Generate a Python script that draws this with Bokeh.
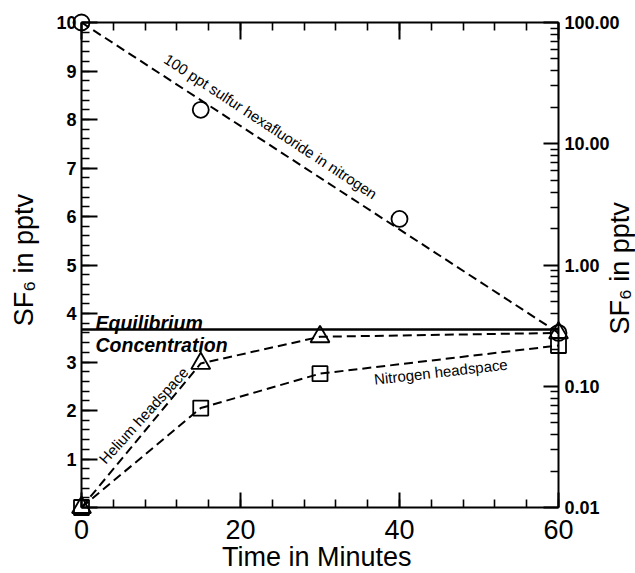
from bokeh.plotting import figure
from bokeh.models import (LinearAxis, LogAxis, Range1d, FixedTicker, LogScale,
                          NumeralTickFormatter, Span, Grid)
from bokeh.core.properties import value
from bokeh.embed import file_html
from bokeh.resources import INLINE
import math

# ---- data ----
std_minutes = [0, 15, 40, 60]
std_pptv = [10.0, 8.2, 5.95, 3.6]
std_fit_minutes = [0, 60]
std_fit_pptv = [10.0, 3.6]
he_minutes = [0, 15, 30, 60]
he_pptv = [0.0, 2.97, 3.52, 3.6]
n2_minutes = [0, 15, 30, 60]
n2_pptv = [0.0, 2.05, 2.76, 3.34]
equilibrium_pptv = 3.67
x_ticks = [0, 20, 40, 60]
x_minor = list(range(0, 61, 4))
y_ticks = list(range(0, 11))
y_minor = [i * 0.2 for i in range(51)]
log_ticks = [0.01, 0.1, 1, 10, 100]
log_minor = [m * 10 ** e for e in range(-2, 2) for m in range(2, 10)]

FONT = "Liberation Sans"

p = figure(width=635, height=573, x_range=Range1d(0, 60), y_range=Range1d(0, 10),
           output_backend="svg", toolbar_location=None,
           x_axis_location=None, y_axis_location=None,
           min_border_left=81, min_border_right=77, min_border_top=22, min_border_bottom=66)
p.extra_y_ranges = {"log": Range1d(0.01, 100)}
p.extra_y_scales = {"log": LogScale()}
p.outline_line_color = None
p.background_fill_color = "white"
p.border_fill_color = "white"
for r in list(p.center) + list(p.renderers):
    if isinstance(r, Grid):
        r.visible = False
p.xgrid.visible = False
p.ygrid.visible = False


def style(ax, major_in, minor_in):
    ax.axis_line_width = 2
    ax.axis_line_color = "black"
    ax.major_tick_line_width = 2
    ax.minor_tick_line_width = 1.6
    ax.major_tick_line_color = "black"
    ax.minor_tick_line_color = "black"
    ax.major_tick_in = major_in
    ax.major_tick_out = 0
    ax.minor_tick_in = minor_in
    ax.minor_tick_out = 0
    ax.major_label_text_font = FONT
    ax.major_label_text_color = "black"


left = LinearAxis(ticker=FixedTicker(ticks=y_ticks, minor_ticks=y_minor),
                  major_label_overrides={0: ""})
style(left, 16, 8)
left.major_label_text_font_size = "18px"
left.major_label_text_font_style = "bold"
left.major_label_standoff = 5
p.add_layout(left, "left")

bottom = LinearAxis(ticker=FixedTicker(ticks=x_ticks, minor_ticks=x_minor))
style(bottom, 15, 8)
bottom.major_label_text_font_size = "27px"
bottom.major_label_standoff = 12
p.add_layout(bottom, "below")

top = LinearAxis(ticker=FixedTicker(ticks=x_ticks, minor_ticks=x_minor),
                 major_label_overrides={t: "" for t in x_ticks})
style(top, 17, 8)
p.add_layout(top, "above")

right = LogAxis(y_range_name="log", ticker=FixedTicker(ticks=log_ticks, minor_ticks=log_minor),
                formatter=NumeralTickFormatter(format="0.00"))
style(right, 15, 8)
right.major_label_text_font_size = "18px"
right.major_label_text_font_style = "bold"
right.major_label_standoff = 6
p.add_layout(right, "right")

# equilibrium line
p.add_layout(Span(location=equilibrium_pptv, dimension="width", line_color="black", line_width=2.5))

DASH = "9 5"
p.line(std_fit_minutes, std_fit_pptv, line_color="black", line_width=2, line_dash=DASH)
p.line(he_minutes, he_pptv, line_color="black", line_width=2, line_dash=DASH)
p.line(n2_minutes, n2_pptv, line_color="black", line_width=2, line_dash=DASH)

p.scatter(std_minutes, std_pptv, marker="circle", size=16, fill_color=None,
          line_color="black", line_width=1.8, level="overlay")
p.scatter(he_minutes, he_pptv, marker="triangle", size=19, fill_color=None,
          line_color="black", line_width=1.8, level="overlay")
p.scatter(n2_minutes, n2_pptv, marker="square", size=15, fill_color=None,
          line_color="black", line_width=1.8, level="overlay")

# ---- texts ----
def lab(x, y, text, size, angle=0.0, style="normal", align="center", baseline="middle"):
    p.text(x=[x], y=[y], text=[text], angle=angle, text_font=value(FONT),
           text_font_size=size, text_font_style=style, text_align=align,
           text_baseline=baseline, text_color="black", level="overlay")


lab(-7.2, 5.1, "SF\u2086 in pptv", "27px", angle=math.pi / 2)
lab(67.7, 4.93, "SF\u2086 in pptv", "27px", angle=math.pi / 2)
lab(29.6, -1.02, "Time in Minutes", "27px")

lab(1.76, 3.81, "Equilibrium", "19.5px", style="bold italic", align="left", baseline="alphabetic")
lab(1.76, 3.36, "Concentration", "19.5px", style="bold italic", align="left", baseline="alphabetic")

lab(23.8, 7.86, "100 ppt sulfur hexafluoride in nitrogen", "15px", angle=math.radians(-33.3))
lab(7.8, 1.9, "Helium headspace", "15px", angle=math.radians(47.8))
lab(45.2, 2.80, "Nitrogen headspace", "15px", angle=math.radians(6.5))

open("out.html", "w").write(file_html(p, INLINE))
